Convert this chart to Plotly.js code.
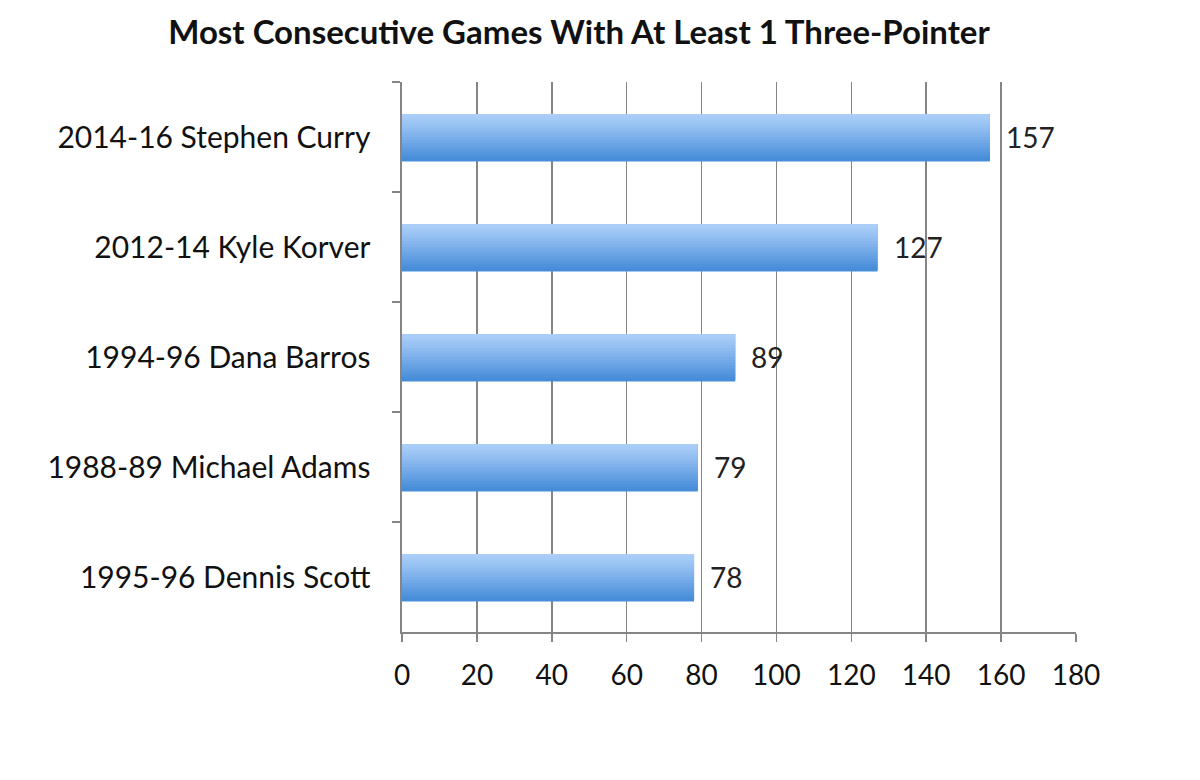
<!DOCTYPE html>
<html>
<head>
<meta charset="utf-8">
<script src="https://cdn.plot.ly/plotly-3.0.1.min.js"></script>
<style>html,body{margin:0;padding:0;background:#fff;}#chart{width:1200px;height:780px;}</style>
</head>
<body>
<div id="chart"></div>
<script>
const players = ["2014-16 Stephen Curry", "2012-14 Kyle Korver", "1994-96 Dana Barros", "1988-89 Michael Adams", "1995-96 Dennis Scott"];
const games = [157, 127, 89, 79, 78];
const xTicks = [0, 20, 40, 60, 80, 100, 120, 140, 160, 180];

const FONT = "Lato, 'Open Sans', sans-serif";
const barW = 0.42;
const colTop = [170, 206, 248], colBot = [72, 141, 218];
const N = 16;
const traces = [];
// base bar
traces.push({
  type: 'bar', orientation: 'h', x: games, y: players,
  width: barW, marker: {color: 'rgb(72,141,218)', line: {width: 0}},
  hoverinfo: 'x+y', showlegend: false
});
for (let i = 0; i < N; i++) {
  const t = i / (N - 1);
  const c = colTop.map((v, k) => Math.round(v + (colBot[k] - v) * Math.pow(t, 1.1)));
  traces.push({
    type: 'bar', orientation: 'h', x: games, y: players,
    width: barW / N + 0.012, offset: -barW / 2 + i * barW / N,
    marker: {color: `rgb(${c[0]},${c[1]},${c[2]})`, line: {width: 0}},
    hoverinfo: 'skip', showlegend: false
  });
}

const annotations = players.map((p, i) => ({
  x: games[i], y: p, xref: 'x', yref: 'y', text: String(games[i]),
  showarrow: false, xanchor: 'left', yanchor: 'middle', xshift: 14,
  font: {family: FONT, size: 28, color: '#222'}
}));

const layout = {
  width: 1200, height: 780,
  paper_bgcolor: '#fff', plot_bgcolor: '#fff',
  margin: {l: 402, r: 124, t: 82, b: 148},
  barmode: 'overlay',
  title: {text: '<b>Most Consecutive Games With At Least 1 Three-Pointer</b>', x: 0.4825, xanchor: 'center', y: 0.959, yanchor: 'middle',
          font: {family: FONT, size: 33, color: '#111'}},
  xaxis: {range: [0, 180], tickvals: xTicks, ticktext: xTicks.map(String), showgrid: true, gridcolor: '#858585', gridwidth: 1.6,
          zeroline: false, showline: true, linecolor: '#858585', linewidth: 1.6, ticks: 'outside', ticklen: 8, tickwidth: 1.6, tickcolor: '#858585',
          tickfont: {family: FONT, size: 28, color: '#111'}, ticklabelstandoff: 10, fixedrange: true},
  yaxis: {autorange: 'reversed', showline: true, linecolor: '#858585', linewidth: 1.6, ticks: 'outside', tickson: 'boundaries', ticklen: 8, tickwidth: 1.6, tickcolor: '#858585',
          showgrid: false, tickfont: {family: FONT, size: 30, color: '#111'}, ticklabelstandoff: 24, fixedrange: true},
  annotations: annotations,
  showlegend: false
};
Plotly.newPlot('chart', traces, layout, {displayModeBar: false, staticPlot: true});
</script>
</body>
</html>
